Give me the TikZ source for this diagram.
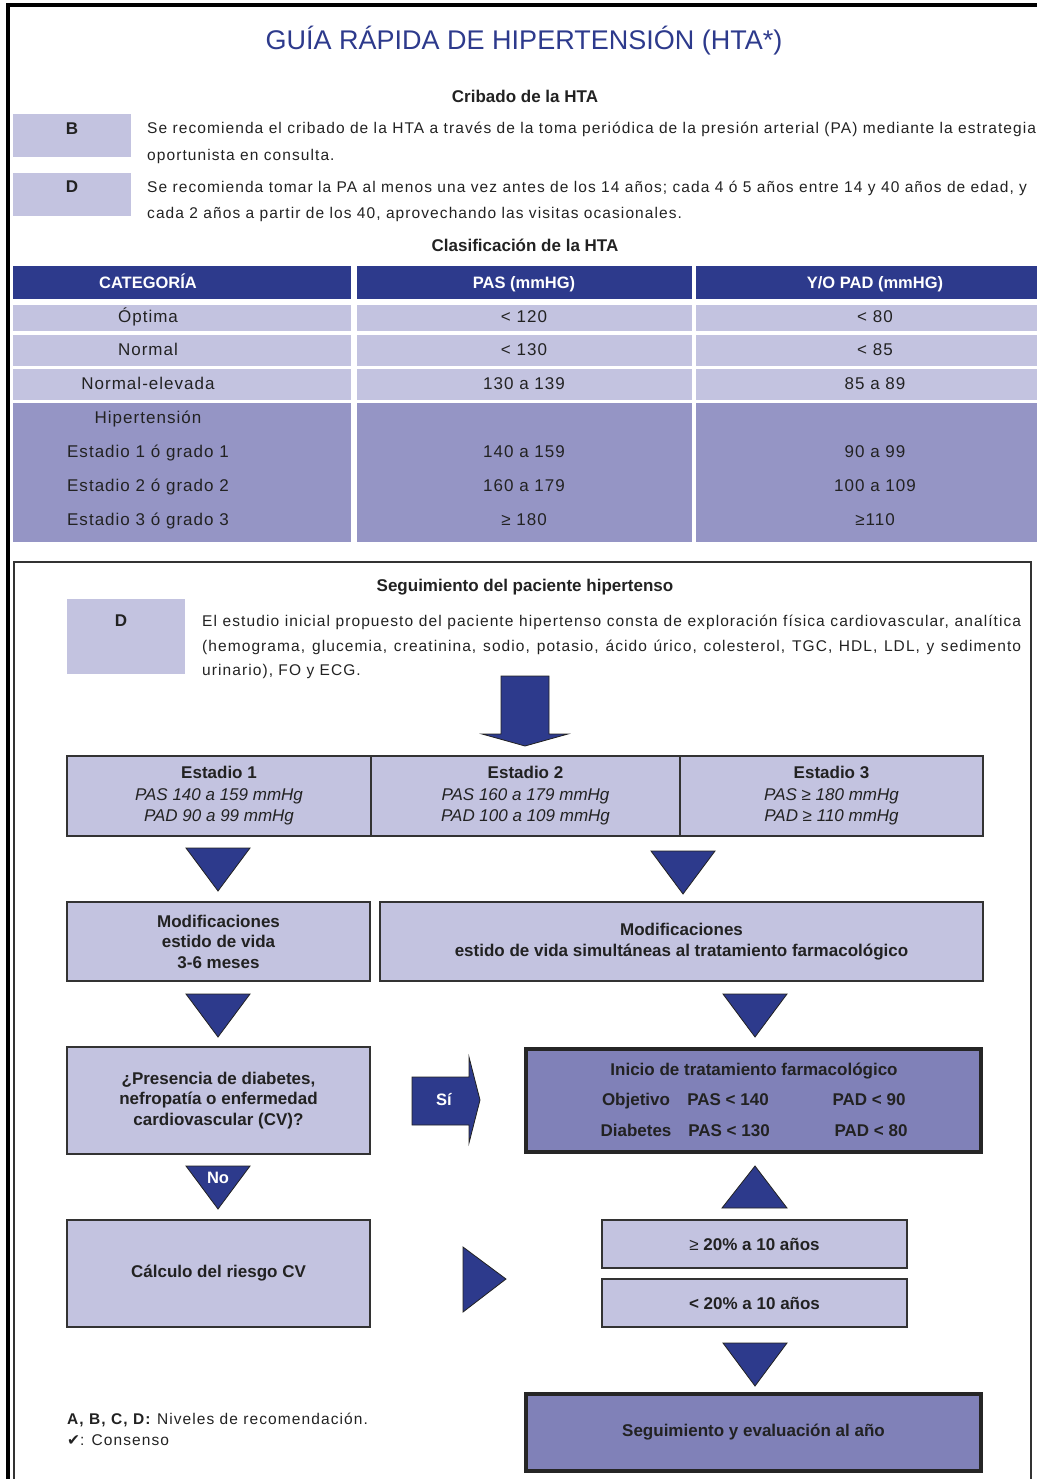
\documentclass[tikz,border=0pt]{standalone}
\usepackage{fontspec}
\setmainfont{Liberation Sans}
\newfontfamily\widefont[LetterSpace=7]{Liberation Sans}
\newfontfamily\tabfont[LetterSpace=6]{Liberation Sans}
\newfontfamily\checkfont{DejaVu Sans}
\definecolor{navy}{HTML}{2D3A8C}
\definecolor{lav}{HTML}{C3C3E0}
\definecolor{lavmid}{HTML}{9595C5}
\definecolor{lavdark}{HTML}{8081B8}
\definecolor{ink}{HTML}{222222}
\definecolor{edge}{HTML}{333333}
\begin{document}
\begin{tikzpicture}
[
 x=1pt, y=-1pt,
 every node/.style={text=ink, inner sep=0pt},
 TXT/.style={font=\widefont\fontsize{15.5}{18}\selectfont, text height=15pt, text depth=3.9pt},
 TABTXT/.style={font=\tabfont\fontsize{17}{20}\selectfont, text height=16.4pt, text depth=4.25pt},
 SECT/.style={font=\fontsize{17}{20}\selectfont\bfseries, text height=16.4pt, text depth=4.25pt},
 BTXT/.style={font=\fontsize{17}{20}\selectfont\bfseries, text height=16.4pt, text depth=4.25pt},
 HEADTXT/.style={font=\fontsize{16.5}{20}\selectfont\bfseries, text height=15.9pt, text depth=4.1pt, text=white},
 LEVEL/.style={rectangle, fill=lav, minimum width=118, minimum height=43},
 FLOWBOX/.style={rectangle, draw=edge, line width=1.5pt, fill=lav, align=center, font=\fontsize{17}{20.5}\selectfont\bfseries},
 ESTBOX/.style={FLOWBOX, minimum height=80, font=\fontsize{17}{21.5}\selectfont},
 KEYBOX/.style={rectangle, draw=black!85, line width=4pt, fill=lavdark, minimum width=455, font=\fontsize{17}{20}\selectfont\bfseries},
 TRI/.style={draw=ink, fill=navy, line width=0.8pt, line join=miter},
]
\useasboundingbox (0,0) rectangle (1036,1479);
%
\draw[black, line width=4] (8,1495) -- (8,5) -- (1045,5);
\draw[edge, line width=2] (14,1495) -- (14,562) -- (1031,562) -- (1031,1495);
%
\node[font=\fontsize{27}{30}\selectfont, text=navy, text height=26pt, text depth=6.7pt] (title) at (524,40) {GUÍA RÁPIDA DE HIPERTENSIÓN (HTA*)};
%
\node[SECT] (cribado) at (525,96) {Cribado de la HTA};
\node[LEVEL] (lvB) at (72,135.5) {};
\node[BTXT]  (lvBtxt) at (72,128) {B};
\node[LEVEL] (lvD) at (72,194.5) {};
\node[BTXT]  (lvDtxt) at (72,186) {D};
\node[TXT, anchor=west] (crB1) at (147,128) {Se recomienda el cribado de la HTA a través de la toma periódica de la presión arterial (PA) mediante la estrategia};
\node[TXT, anchor=west] (crB2) at (147,155) {oportunista en consulta.};
\node[TXT, anchor=west] (crD1) at (147,187) {Se recomienda tomar la PA al menos una vez antes de los 14 años; cada 4 ó 5 años entre 14 y 40 años de edad, y};
\node[TXT, anchor=west] (crD2) at (147,213) {cada 2 años a partir de los 40, aprovechando las visitas ocasionales.};
%
\node[SECT] (clasif) at (525,245) {Clasificación de la HTA};
\foreach \xa/\xb in {13/351, 357/692, 696/1054}
   {
     \fill[navy] (\xa,266) rectangle (\xb,299);
     \foreach \ya/\yb in {305/331, 335/366, 369/400} { \fill[lav] (\xa,\ya) rectangle (\xb,\yb); }
     \fill[lavmid] (\xa,403) rectangle (\xb,542);
   }
\node[HEADTXT] (hcat) at (148,283) {CATEGORÍA};
\node[HEADTXT] (hpas) at (524,283) {PAS (mmHG)};
\node[HEADTXT] (hpad) at (875,283) {Y/O PAD (mmHG)};
\node[TABTXT]  (hiper) at (148,417) {Hipertensión};
\foreach \y/\cat/\pas/\pad [count=\i] in
   {316/Óptima/< 120/< 80, 349/Normal/< 130/< 85, 383/Normal-elevada/130 a 139/85 a 89,
    451/Estadio 1 ó grado 1/140 a 159/90 a 99, 485/Estadio 2 ó grado 2/160  a 179/100 a 109,
    519/Estadio 3 ó grado 3/≥ 180/≥110}
   {
     \node[TABTXT] (cat\i) at (148,\y) {\cat};
     \node[TABTXT] (pas\i) at (524,\y) {\pas};
     \node[TABTXT] (pad\i) at (875,\y) {\pad};
   }
%
\node[SECT] (seguim) at (525,585) {Seguimiento del paciente hipertenso};
\node[LEVEL, minimum height=75] (lvD2) at (126,636.5) {};
\node[BTXT] (lvD2txt) at (121,620) {D};
\node[TXT, anchor=west] (par1) at (202,621) {\makebox[819pt][s]{El estudio inicial propuesto del paciente hipertenso consta de exploración física cardiovascular, analítica}};
\node[TXT, anchor=west] (par2) at (202,646) {\makebox[819pt][s]{(hemograma, glucemia, creatinina, sodio, potasio, ácido úrico, colesterol, TGC, HDL, LDL, y sedimento}};
\node[TXT, anchor=west] (par3) at (202,670) {urinario), FO y ECG.};
%
\draw[TRI] (501,676) -- (549,676) -- (549,734) -- (568,734) -- (525,746) -- (482,734) -- (501,734) -- cycle;
%
\node[ESTBOX, minimum width=304] (est1) at (219,796)   {\textbf{Estadio 1}\\\textit{PAS 140 a 159 mmHg}\\\textit{PAD 90 a 99 mmHg}};
\node[ESTBOX, minimum width=309] (est2) at (525.5,796) {\textbf{Estadio 2}\\\textit{PAS 160 a 179 mmHg}\\\textit{PAD 100 a 109 mmHg}};
\node[ESTBOX, minimum width=303] (est3) at (831.5,796) {\textbf{Estadio 3}\\\textit{PAS ≥ 180 mmHg}\\\textit{PAD ≥ 110 mmHg}};
%
\foreach \cx/\ty in {218/848, 683/851, 218/994, 755/994, 218/1166, 755/1343}
   { \draw[TRI] (\cx-32,\ty) -- (\cx+32,\ty) -- (\cx,\ty+43) -- cycle; }
\draw[TRI] (722,1208) -- (787,1208) -- (755,1166) -- cycle;
\draw[TRI] (463,1247) -- (506,1279) -- (463,1312) -- cycle;
\draw[TRI] (412,1077) -- (469,1077) -- (469,1057) -- (480,1100) -- (469,1143) -- (469,1125) -- (412,1125) -- cycle;
\node[HEADTXT] (si) at (444,1100) {Sí};
\node[HEADTXT] (no) at (218,1178) {No};
%
\node[FLOWBOX, minimum width=303, minimum height=79]  (mod1) at (218.5,941.5) {Modificaciones\\estido de vida\\3-6 meses};
\node[FLOWBOX, minimum width=603, minimum height=79]  (mod2) at (681.5,941.5) {Modificaciones\\estido de vida simultáneas al tratamiento farmacológico};
\node[FLOWBOX, minimum width=303, minimum height=107] (pres) at (218.5,1100.5) {¿Presencia de diabetes,\\nefropatía o enfermedad\\cardiovascular (CV)?};
\node[FLOWBOX, minimum width=303, minimum height=107] (calc) at (218.5,1273.5) {Cálculo del riesgo CV};
%
\node[KEYBOX, minimum height=103] (ini) at (753.5,1100.5) {};
\node[BTXT] (initit) at (754,1069) {Inicio de tratamiento farmacológico};
\node[BTXT] (obj)    at (636,1099) {Objetivo};
\node[BTXT] (objpas) at (728,1099) {PAS < 140};
\node[BTXT] (objpad) at (869,1099) {PAD < 90};
\node[BTXT] (dia)    at (636,1130) {Diabetes};
\node[BTXT] (diapas) at (729,1130) {PAS < 130};
\node[BTXT] (diapad) at (871,1130) {PAD < 80};
%
\node[FLOWBOX, minimum width=305, minimum height=48] (hi20) at (754.5,1244) {{\mdseries ≥} 20\% a 10 años};
\node[FLOWBOX, minimum width=305, minimum height=48] (lo20) at (754.5,1303) {< 20\% a 10 años};
\node[KEYBOX, minimum height=77] (segu) at (753.5,1432.5) {Seguimiento y evaluación al año};
%
\node[TXT, anchor=west] (leg1) at (67,1419) {\textbf{A, B, C, D:} Niveles de recomendación.};
\node[TXT, anchor=west] (leg2) at (67,1440) {{\checkfont ✔}: Consenso};
%
\end{tikzpicture}
\end{document}
